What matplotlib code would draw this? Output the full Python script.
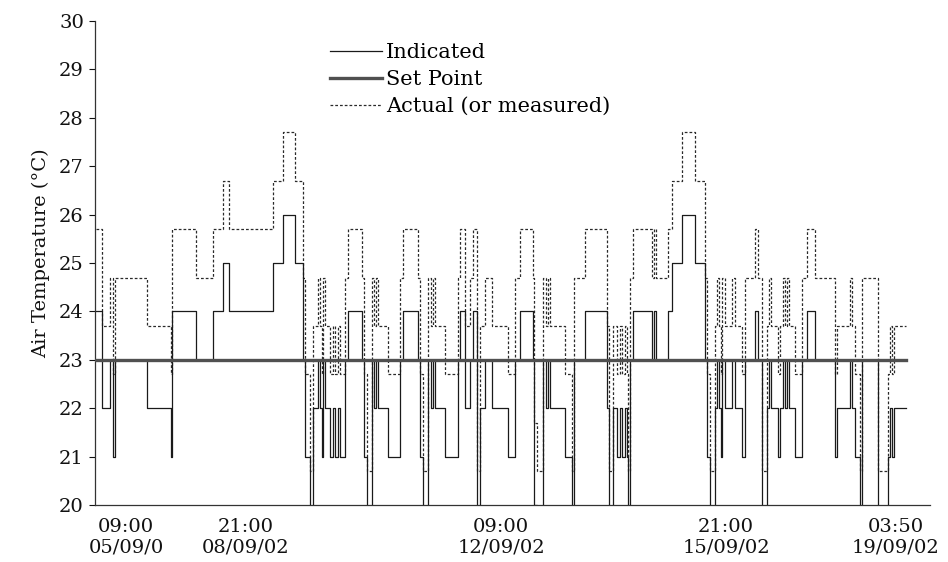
import matplotlib
matplotlib.use("Agg")
import matplotlib.pyplot as plt

# sample number (logger category axis) where each step starts
sample = [1, 7, 15, 18, 20, 52, 76, 77, 101, 118,
          128, 134, 178, 188, 200, 208, 210, 215, 218, 223,
          225, 227, 228, 230, 235, 238, 240, 243, 245, 250,
          253, 267, 269, 272, 277, 279, 281, 283, 293, 305,
          308, 323, 325, 328, 333, 336, 338, 340, 350, 363,
          365, 370, 375, 378, 382, 385, 390, 397, 413, 420,
          425, 438, 439, 442, 448, 451, 453, 455, 470, 477,
          479, 490, 512, 514, 518, 522, 525, 527, 530, 532,
          533, 535, 538, 557, 559, 561, 573, 577, 587, 600,
          610, 612, 615, 620, 622, 624, 626, 627, 630, 637,
          640, 647, 650, 660, 663, 667, 672, 674, 676, 683,
          685, 688, 690, 692, 694, 700, 707, 712, 720, 740,
          742, 755, 757, 760, 765, 767, 783, 793, 795, 797,
          799, 811]

indicated = [24, 22, 23, 21, 23, 22, 21, 24, 23, 24,
             25, 24, 25, 26, 25, 23, 21, 19, 22, 23,
             22, 21, 23, 22, 21, 22, 21, 22, 21, 23,
             24, 23, 21, 19, 23, 22, 23, 22, 21, 23,
             24, 23, 21, 19, 23, 22, 23, 22, 21, 23,
             24, 22, 23, 24, 19, 22, 23, 22, 21, 23,
             24, 23, 20, 19, 23, 22, 23, 22, 21, 19,
             23, 24, 22, 19, 22, 21, 22, 21, 22, 21,
             19, 23, 24, 23, 24, 23, 24, 25, 26, 25,
             23, 21, 19, 22, 23, 22, 21, 23, 22, 23,
             22, 21, 23, 24, 23, 19, 22, 23, 22, 21,
             22, 23, 22, 23, 22, 21, 23, 24, 23, 21,
             22, 23, 22, 21, 19, 23, 19, 21, 22, 21,
             22, 22]

actual = [25.7, 23.7, 24.7, 22.7, 24.7, 23.7, 22.7, 25.7, 24.7, 25.7,
          26.7, 25.7, 26.7, 27.7, 26.7, 24.7, 22.7, 20.7, 23.7, 24.7,
          23.7, 22.7, 24.7, 23.7, 22.7, 23.7, 22.7, 23.7, 22.7, 24.7,
          25.7, 24.7, 22.7, 20.7, 24.7, 23.7, 24.7, 23.7, 22.7, 24.7,
          25.7, 24.7, 22.7, 20.7, 24.7, 23.7, 24.7, 23.7, 22.7, 24.7,
          25.7, 23.7, 24.7, 25.7, 20.7, 23.7, 24.7, 23.7, 22.7, 24.7,
          25.7, 24.7, 21.7, 20.7, 24.7, 23.7, 24.7, 23.7, 22.7, 20.7,
          24.7, 25.7, 23.7, 20.7, 23.7, 22.7, 23.7, 22.7, 23.7, 22.7,
          20.7, 24.7, 25.7, 24.7, 25.7, 24.7, 25.7, 26.7, 27.7, 26.7,
          24.7, 22.7, 20.7, 23.7, 24.7, 23.7, 22.7, 24.7, 23.7, 24.7,
          23.7, 22.7, 24.7, 25.7, 24.7, 20.7, 23.7, 24.7, 23.7, 22.7,
          23.7, 24.7, 23.7, 24.7, 23.7, 22.7, 24.7, 25.7, 24.7, 22.7,
          23.7, 24.7, 23.7, 22.7, 20.7, 24.7, 20.7, 22.7, 23.7, 22.7,
          23.7, 23.7]

setpoint_sample = [0, 811]
setpoint = [23, 23]

tick_pos = [31, 151, 406, 631, 801]
tick_labels = ['09:00\n05/09/0', '21:00\n08/09/02', '09:00\n12/09/02',
               '21:00\n15/09/02', '03:50\n19/09/02']

plt.rcParams['font.family'] = ['DejaVu Serif']
fig = plt.figure(figsize=(9.48, 5.62), dpi=100)
ax = fig.add_axes([95 / 948, 1 - 505 / 562, 835 / 948, 484 / 562])

ax.step(sample, actual, where='post', color='#2a2a2a', linewidth=0.9,
        linestyle=(0, (2.2, 1.6)), label='Actual (or measured)', zorder=2)
ax.step(sample, indicated, where='post', color='#1a1a1a', linewidth=0.9,
        label='Indicated', zorder=3)
ax.plot(setpoint_sample, setpoint, color='#505050', linewidth=2.4,
        label='Set Point', zorder=4)

ax.set_xlim(0, 835)
ax.set_ylim(20, 30)
ax.set_yticks(range(20, 31))
ax.set_xticks(tick_pos)
ax.set_xticklabels(tick_labels, linespacing=1.25)
ax.tick_params(axis='x', length=0, pad=9, labelsize=14, colors='#111111')
ax.tick_params(axis='y', direction='out', length=4, width=0.8, pad=4,
               labelsize=14, colors='#111111')
for s in ['top', 'right']:
    ax.spines[s].set_visible(False)
for s in ['left', 'bottom']:
    ax.spines[s].set_color('#333333')
    ax.spines[s].set_linewidth(0.9)

ax.set_ylabel('Air Temperature (°C)', fontsize=14, color='#111111')
ax.yaxis.set_label_coords(-0.054, 0.52)

handles, labels = ax.get_legend_handles_labels()
order = [labels.index('Indicated'), labels.index('Set Point'),
         labels.index('Actual (or measured)')]
ax.legend([handles[i] for i in order], [labels[i] for i in order],
          loc='upper left', bbox_to_anchor=(330 / 948, 1 - 43 / 562),
          bbox_transform=fig.transFigure, frameon=False, fontsize=15,
          handlelength=2.5, handletextpad=0.2, labelspacing=0.38,
          borderpad=0, borderaxespad=0)

fig.savefig('out.png', dpi=100)
